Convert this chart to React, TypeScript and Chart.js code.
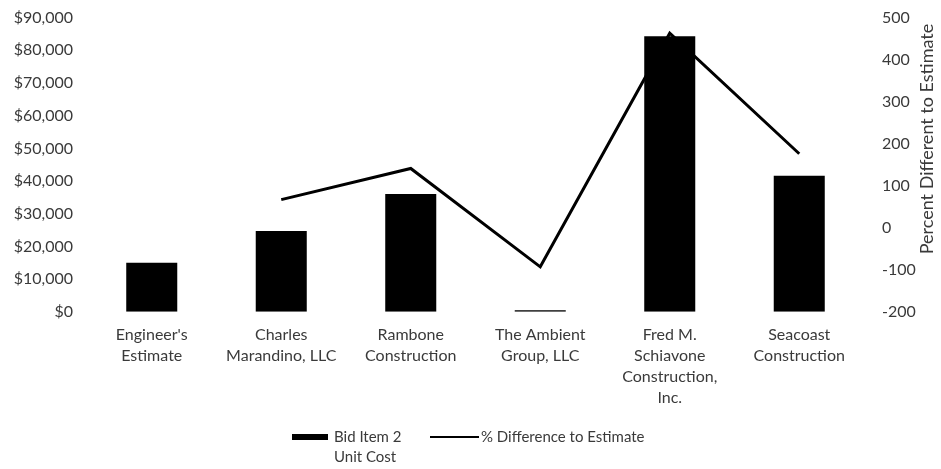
import React, { useEffect, useRef } from "react";
import { Chart, registerables } from "chart.js";

Chart.register(...registerables);

const categories: string[][] = [
  ["Engineer's", "Estimate"],
  ["Charles", "Marandino, LLC"],
  ["Rambone", "Construction"],
  ["The Ambient", "Group, LLC"],
  ["Fred M.", "Schiavone", "Construction,", "Inc."],
  ["Seacoast", "Construction"],
];
const unitCost: number[] = [15000, 24700, 36000, 500, 84300, 41600];
const pctDiff: (number | null)[] = [null, 67, 141, -93, 463, 176];
const barLegendLabel: string[] = ["Bid Item 2", "Unit Cost"];
const lineLegendLabel = "% Difference to Estimate";
const rightAxisTitle = "Percent Different to Estimate";

const FONT = "Lato, 'Open Sans', sans-serif";
const TEXT = "#3a3a3a";

const legendPlugin = {
  id: "customLegend",
  afterDraw(chart: any) {
    const ctx = chart.ctx as CanvasRenderingContext2D;
    ctx.save();
    ctx.fillStyle = "#000";
    ctx.fillRect(292, 434, 36, 6);
    ctx.strokeStyle = "#000";
    ctx.lineWidth = 2;
    ctx.beginPath();
    ctx.moveTo(430, 437);
    ctx.lineTo(479, 437);
    ctx.stroke();
    ctx.fillStyle = TEXT;
    ctx.font = `15px ${FONT}`;
    ctx.textBaseline = "middle";
    ctx.textAlign = "left";
    barLegendLabel.forEach((t, i) => ctx.fillText(t, 334, 437 + i * 20));
    ctx.fillText(lineLegendLabel, 481, 437);
    // right axis title, reading bottom to top
    ctx.translate(927, 139);
    ctx.rotate(-Math.PI / 2);
    ctx.textAlign = "center";
    ctx.font = `18px ${FONT}`;
    ctx.fillText(rightAxisTitle, 0, 0);
    ctx.restore();
  },
};

export default function App() {
  const ref = useRef<HTMLCanvasElement | null>(null);
  useEffect(() => {
    document.body.style.margin = "0";
    const canvas = ref.current;
    if (!canvas) return;
    const chart = new Chart(canvas, {
      type: "bar",
      data: {
        labels: categories as any,
        datasets: [
          {
            type: "line",
            label: lineLegendLabel,
            data: pctDiff,
            yAxisID: "y1",
            borderColor: "#000",
            borderWidth: 3,
            pointRadius: 0,
            tension: 0,
            order: 0,
          } as any,
          {
            type: "bar",
            label: barLegendLabel.join(" "),
            data: unitCost,
            yAxisID: "y",
            backgroundColor: "#000",
            barPercentage: 0.394,
            categoryPercentage: 1,
            order: 1,
          },
        ],
      },
      options: {
        animation: false,
        responsive: false,
        layout: { padding: { left: 0, right: 2, top: 0, bottom: 56 } },
        plugins: { legend: { display: false }, tooltip: { enabled: false } },
        scales: {
          x: {
            grid: { display: false },
            border: { display: false },
            ticks: {
              color: TEXT,
              font: { family: FONT, size: 16, lineHeight: 1.3 },
              maxRotation: 0,
              autoSkip: false,
              padding: 5,
            },
          },
          y: {
            position: "left",
            min: 0,
            max: 90000,
            grid: { display: false },
            border: { display: false },
            afterFit: (s: any) => {
              s.width = 87;
            },
            ticks: {
              stepSize: 10000,
              color: TEXT,
              font: { family: FONT, size: 16, lineHeight: 0.95 },
              padding: 6,
              callback: (v: any) => "$" + Number(v).toLocaleString("en-US"),
            },
          },
          y1: {
            position: "right",
            min: -200,
            max: 500,
            grid: { display: false },
            border: { display: false },
            afterFit: (s: any) => {
              s.width = 75;
            },
            ticks: {
              stepSize: 100,
              color: TEXT,
              font: { family: FONT, size: 16, lineHeight: 0.95 },
              padding: 10,
            },
          },
        },
      },
      plugins: [legendPlugin],
    });
    return () => chart.destroy();
  }, []);
  return (
    <div style={{ width: 941, height: 469, background: "#fff" }}>
      <canvas ref={ref} width={941} height={469} />
    </div>
  );
}
